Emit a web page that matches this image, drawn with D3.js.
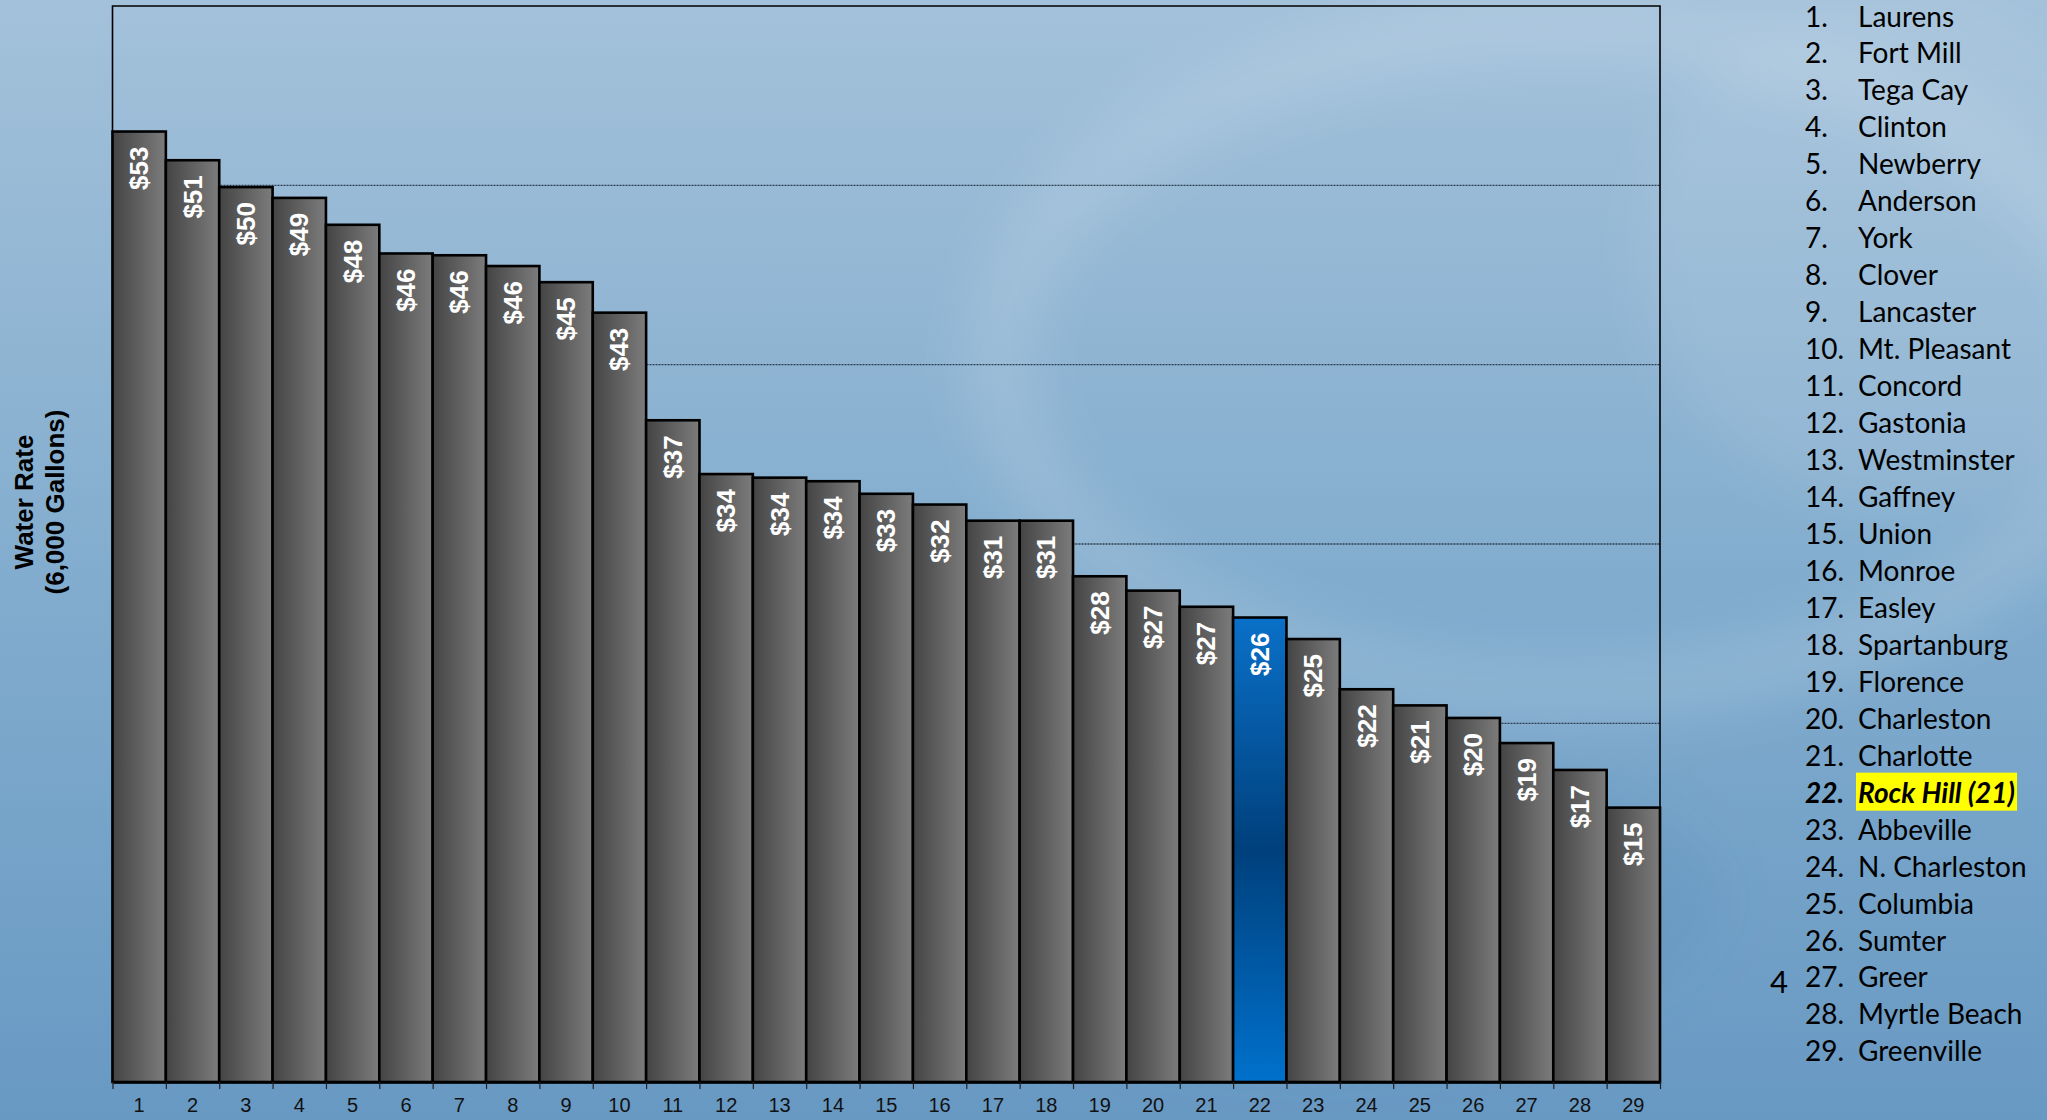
<!DOCTYPE html>
<html>
  <head>
    <meta charset="UTF-8">
    <title>Water Rate</title>
    <style>
    body {
      margin: 0;
      overflow: hidden;
    }
    svg {
      display: block;
    }
    </style>
  </head>
  <body>
    <svg id="chart"></svg>
  </body>
  <script src="https://cdn.jsdelivr.net/npm/d3@7/dist/d3.min.js"></script>
  <script>
  // ranking (x categories)
  var ranks = [1, 2, 3, 4, 5, 6, 7, 8, 9, 10, 11, 12, 13, 14, 15, 16, 17, 18, 19, 20, 21, 22, 23, 24, 25, 26, 27, 28, 29];

  // monthly bill for 6,000 gallons
  var rates = [53.0, 51.4, 49.9, 49.3, 47.8, 46.2, 46.1, 45.5, 44.6, 42.9, 36.9, 33.9, 33.7, 33.5, 32.8, 32.2,
               31.3, 31.3, 28.2, 27.4, 26.5, 25.9, 24.7, 21.9, 21.0, 20.3, 18.9, 17.4, 15.3];

  var cities = ["Laurens", "Fort Mill", "Tega Cay", "Clinton", "Newberry", "Anderson", "York", "Clover",
                "Lancaster", "Mt. Pleasant", "Concord", "Gastonia", "Westminster", "Gaffney", "Union",
                "Monroe", "Easley", "Spartanburg", "Florence", "Charleston", "Charlotte", "Rock Hill (21)",
                "Abbeville", "N. Charleston", "Columbia", "Sumter", "Greer", "Myrtle Beach", "Greenville"];

  var gridValues = [10, 20, 30, 40, 50];
  var highlightRank = 22;

  var width = 2047, height = 1120;
  var plotLeft = 112.5, plotRight = 1660, plotTop = 6, plotBottom = 1082;

  var svg = d3.select("svg#chart")
    .attr("width", width)
    .attr("height", height);

  var defs = svg.append("defs");

  var bg = defs.append("linearGradient").attr("id", "bgGrad")
    .attr("x1", 0).attr("y1", 0).attr("x2", 0).attr("y2", 1);
  bg.append("stop").attr("offset", "0%").attr("stop-color", "#a3c1da");
  bg.append("stop").attr("offset", "55%").attr("stop-color", "#80abcd");
  bg.append("stop").attr("offset", "100%").attr("stop-color", "#6899c3");

  var barGrad = defs.append("linearGradient").attr("id", "barGrad")
    .attr("x1", 0).attr("y1", 0).attr("x2", 1).attr("y2", 0);
  barGrad.append("stop").attr("offset", "0%").attr("stop-color", "#444444");
  barGrad.append("stop").attr("offset", "100%").attr("stop-color", "#7c7c7c");

  var blueGrad = defs.append("linearGradient").attr("id", "blueGrad")
    .attr("x1", 0).attr("y1", 0).attr("x2", 0).attr("y2", 1);
  blueGrad.append("stop").attr("offset", "0%").attr("stop-color", "#0a70c8");
  blueGrad.append("stop").attr("offset", "50%").attr("stop-color", "#00407c");
  blueGrad.append("stop").attr("offset", "100%").attr("stop-color", "#0071cc");

  defs.append("filter").attr("id", "soft")
    .attr("x", "-50%").attr("y", "-50%").attr("width", "200%").attr("height", "200%")
    .append("feGaussianBlur").attr("stdDeviation", 25);

  // background
  svg.append("rect")
    .attr("width", width)
    .attr("height", height)
    .attr("fill", "url(#bgGrad)");

  // faint swirl in the background
  var swirl = svg.append("g").attr("filter", "url(#soft)");
  swirl.append("ellipse")
    .attr("cx", 1560).attr("cy", 360).attr("rx", 560).attr("ry", 330)
    .attr("fill", "none").attr("stroke", "#ffffff").attr("stroke-opacity", 0.12).attr("stroke-width", 70);
  swirl.append("ellipse")
    .attr("cx", 1900).attr("cy", 250).attr("rx", 260).attr("ry", 260)
    .attr("fill", "#ffffff").attr("fill-opacity", 0.08);
  swirl.append("ellipse")
    .attr("cx", 1300).attr("cy", 900).attr("rx", 420).attr("ry", 160)
    .attr("fill", "#4f86b6").attr("fill-opacity", 0.2);

  var x = d3.scaleBand()
    .domain(ranks)
    .range([plotLeft, plotRight])
    .padding(0);

  var y = d3.scaleLinear()
    .domain([0, 60])
    .range([plotBottom, plotTop]);

  // dotted grid
  svg.append("g")
    .selectAll("line")
    .data(gridValues)
    .enter()
    .append("line")
    .attr("x1", plotLeft)
    .attr("x2", plotRight)
    .attr("y1", function(d) { return y(d); })
    .attr("y2", function(d) { return y(d); })
    .attr("stroke", "#2e3e50")
    .attr("stroke-width", 1.3)
    .attr("stroke-dasharray", "2,1");

  // plot frame
  svg.append("path")
    .attr("d", "M" + plotLeft + "," + plotBottom + "V" + plotTop + "H" + plotRight + "V" + plotBottom)
    .attr("fill", "none")
    .attr("stroke", "#000")
    .attr("stroke-width", 1.6);

  var data = ranks.map(function(r, i) { return {rank: r, rate: rates[i]}; });

  svg.append("g")
    .selectAll("rect")
    .data(data)
    .enter()
    .append("rect")
    .attr("x", function(d) { return x(d.rank); })
    .attr("y", function(d) { return y(d.rate); })
    .attr("width", x.bandwidth())
    .attr("height", function(d) { return y(0) - y(d.rate); })
    .attr("fill", function(d) { return d.rank == highlightRank ? "url(#blueGrad)" : "url(#barGrad)"; })
    .attr("stroke", "#000")
    .attr("stroke-width", 2.6);

  // value labels inside bars
  svg.append("g")
    .selectAll("text")
    .data(data)
    .enter()
    .append("text")
    .attr("transform", function(d) {
      return "translate(" + (x(d.rank) + x.bandwidth() / 2) + "," + (y(d.rate) + 15) + ")rotate(-90)";
    })
    .attr("text-anchor", "end")
    .attr("dominant-baseline", "central")
    .style("font-family", "'Liberation Sans', Arial, sans-serif")
    .style("font-weight", "bold")
    .style("font-size", "26px")
    .attr("fill", "#fff")
    .text(function(d) { return "$" + Math.round(d.rate); });

  // x axis: labels at bar centres, ticks at bar edges
  var xAxis = svg.append("g")
    .attr("transform", "translate(0," + plotBottom + ")")
    .call(d3.axisBottom(x).tickSize(0).tickPadding(16));
  xAxis.select(".domain").remove();
  xAxis.selectAll("text")
    .style("font-family", "'Liberation Sans', Arial, sans-serif")
    .style("font-size", "20px")
    .attr("fill", "#111");

  var edges = d3.scaleLinear().domain([0, ranks.length]).range([plotLeft, plotRight]);
  var edgeAxis = svg.append("g")
    .attr("transform", "translate(0," + plotBottom + ")")
    .call(d3.axisBottom(edges).ticks(ranks.length).tickSize(7).tickSizeOuter(0).tickFormat(""));
  edgeAxis.select(".domain").attr("stroke", "#000").attr("stroke-width", 2.6);
  edgeAxis.selectAll(".tick line").attr("stroke", "#222").attr("stroke-width", 1.2);

  // y title
  var titleLines = ["Water Rate", "(6,000 Gallons)"];
  svg.append("g")
    .selectAll("text")
    .data(titleLines)
    .enter()
    .append("text")
    .attr("transform", function(d, i) { return "translate(" + (33 + i * 31) + ",502)rotate(-90)"; })
    .attr("text-anchor", "middle")
    .style("font-family", "'Liberation Sans', Arial, sans-serif")
    .style("font-weight", "bold")
    .style("font-size", "26px")
    .attr("fill", "#000")
    .text(function(d) { return d; });

  // ranked list on the right
  var list = svg.append("g")
    .style("font-family", "Lato, 'Open Sans', sans-serif")
    .style("font-size", "28px")
    .attr("fill", "#000");

  var rowY = function(i) { return 26.5 + i * 36.96; };

  var rows = list.selectAll("g")
    .data(cities)
    .enter()
    .append("g")
    .attr("transform", function(d, i) { return "translate(0," + rowY(i) + ")"; });

  rows.each(function(d, i) {
    var row = d3.select(this);
    var isHi = ranks[i] == highlightRank;
    var name = row.append("text")
      .attr("x", 1858)
      .style("font-weight", isHi ? "bold" : "normal")
      .style("font-style", isHi ? "italic" : "normal")
      .text(d);
    if (isHi) {
      var bb = name.node().getBBox();
      row.insert("rect", "text")
        .attr("x", 1856)
        .attr("y", -30)
        .attr("width", bb.width + 4)
        .attr("height", 38)
        .attr("fill", "#ffff00");
    }
    row.append("text")
      .attr("x", 1805)
      .style("font-weight", isHi ? "bold" : "normal")
      .style("font-style", isHi ? "italic" : "normal")
      .text(ranks[i] + ".");
  });

  // stray slide number
  svg.append("text")
    .attr("x", 1770)
    .attr("y", 993)
    .style("font-family", "Lato, 'Open Sans', sans-serif")
    .style("font-size", "31px")
    .attr("fill", "#000")
    .text("4");
  </script>
</html>
